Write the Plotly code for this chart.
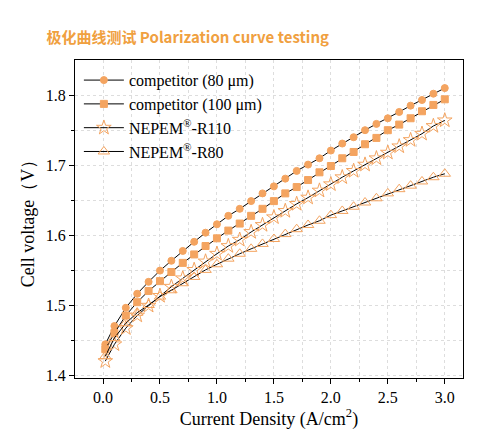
import plotly.graph_objects as go

current = [0.02, 0.1, 0.2, 0.3, 0.4, 0.5, 0.6, 0.7, 0.8, 0.9, 1.0, 1.1, 1.2, 1.3, 1.4, 1.5,
           1.6, 1.7, 1.8, 1.9, 2.0, 2.1, 2.2, 2.3, 2.4, 2.5, 2.6, 2.7, 2.8, 2.9, 3.0]

comp_80 = [1.445, 1.471, 1.497, 1.517, 1.534, 1.550, 1.564, 1.578, 1.591, 1.604, 1.616,
           1.628, 1.638, 1.649, 1.660, 1.670, 1.681, 1.692, 1.701, 1.710, 1.721, 1.731,
           1.740, 1.750, 1.759, 1.767, 1.776, 1.785, 1.793, 1.802, 1.810]
comp_100 = [1.438, 1.461, 1.486, 1.505, 1.521, 1.535, 1.548, 1.561, 1.573, 1.585, 1.596,
            1.607, 1.617, 1.628, 1.638, 1.649, 1.660, 1.669, 1.679, 1.690, 1.699, 1.710,
            1.719, 1.730, 1.739, 1.750, 1.758, 1.767, 1.777, 1.786, 1.794]
r110 = [1.421, 1.445, 1.468, 1.486, 1.500, 1.514, 1.527, 1.539, 1.551, 1.563, 1.574,
        1.585, 1.594, 1.605, 1.615, 1.626, 1.635, 1.645, 1.654, 1.664, 1.673, 1.683,
        1.692, 1.701, 1.710, 1.718, 1.727, 1.736, 1.745, 1.756, 1.764]
r80 = [1.428, 1.454, 1.475, 1.490, 1.501, 1.513, 1.522, 1.532, 1.541, 1.551, 1.559,
       1.567, 1.574, 1.581, 1.588, 1.595, 1.602, 1.609, 1.615, 1.621, 1.629, 1.635,
       1.641, 1.647, 1.653, 1.660, 1.666, 1.671, 1.677, 1.683, 1.688]

ORANGE = "#f4a460"
FONT = "Liberation Serif"

# name, values, marker symbol, marker size
series = [
    ("competitor (80 μm)", comp_80, "circle", 7),
    ("competitor (100 μm)", comp_100, "square", 7),
    ("NEPEM<sup>®</sup>-R110", r110, "star-open", 11),
    ("NEPEM<sup>®</sup>-R80", r80, "triangle-up-open", 10),
]

fig = go.Figure()
for name, vals, symbol, size in series:
    fig.add_trace(go.Scatter(
        x=current, y=vals, name=name, mode="lines+markers",
        line=dict(color="black", width=1),
        marker=dict(symbol=symbol, size=size, color=ORANGE,
                    line=dict(color=ORANGE, width=1)),
    ))

axis_style = dict(
    showline=True, linecolor="black", linewidth=1, mirror=True,
    ticks="outside", tickcolor="black", ticklen=5,
    showgrid=True, gridcolor="#dddddd", griddash="dot",
    zeroline=False, tickfont=dict(family=FONT, size=16, color="black"),
)

fig.update_xaxes(range=[-0.246, 3.16], tickvals=[0, 0.5, 1.0, 1.5, 2.0, 2.5, 3.0],
                 ticktext=["0.0", "0.5", "1.0", "1.5", "2.0", "2.5", "3.0"],
                 minor=dict(tickvals=[0.25, 0.75, 1.25, 1.75, 2.25, 2.75], ticks="outside",
                            ticklen=3, tickcolor="black", showgrid=True,
                            gridcolor="#dddddd", griddash="dot"),
                 title=dict(text="Current Density (A/cm<sup>2</sup>)",
                            font=dict(family=FONT, size=18, color="black"), standoff=2),
                 **axis_style)
fig.update_yaxes(range=[1.397, 1.85], tickvals=[1.4, 1.5, 1.6, 1.7, 1.8],
                 minor=dict(tickvals=[1.45, 1.55, 1.65, 1.75], ticks="outside",
                            ticklen=3, tickcolor="black", showgrid=True,
                            gridcolor="#dddddd", griddash="dot"),
                 title=dict(text="Cell voltage（V）",
                            font=dict(family=FONT, size=18, color="black"), standoff=6),
                 **axis_style)

fig.update_layout(
    width=481, height=432,
    margin=dict(l=67, r=26, t=52, b=62),
    plot_bgcolor="white", paper_bgcolor="white",
    title=dict(text="<b>极化曲线测试 Polarization curve testing</b>",
               font=dict(family="Noto Sans CJK SC", size=15, color="#f0a040"),
               x=0.08, xanchor="left", y=0.93, yanchor="middle"),
    legend=dict(x=0.01, y=0.99, xanchor="left", yanchor="top",
                bgcolor="rgba(0,0,0,0)", font=dict(family=FONT, size=16, color="black"),
                itemwidth=40, tracegroupgap=0),
)

fig.write_html("out.html")
